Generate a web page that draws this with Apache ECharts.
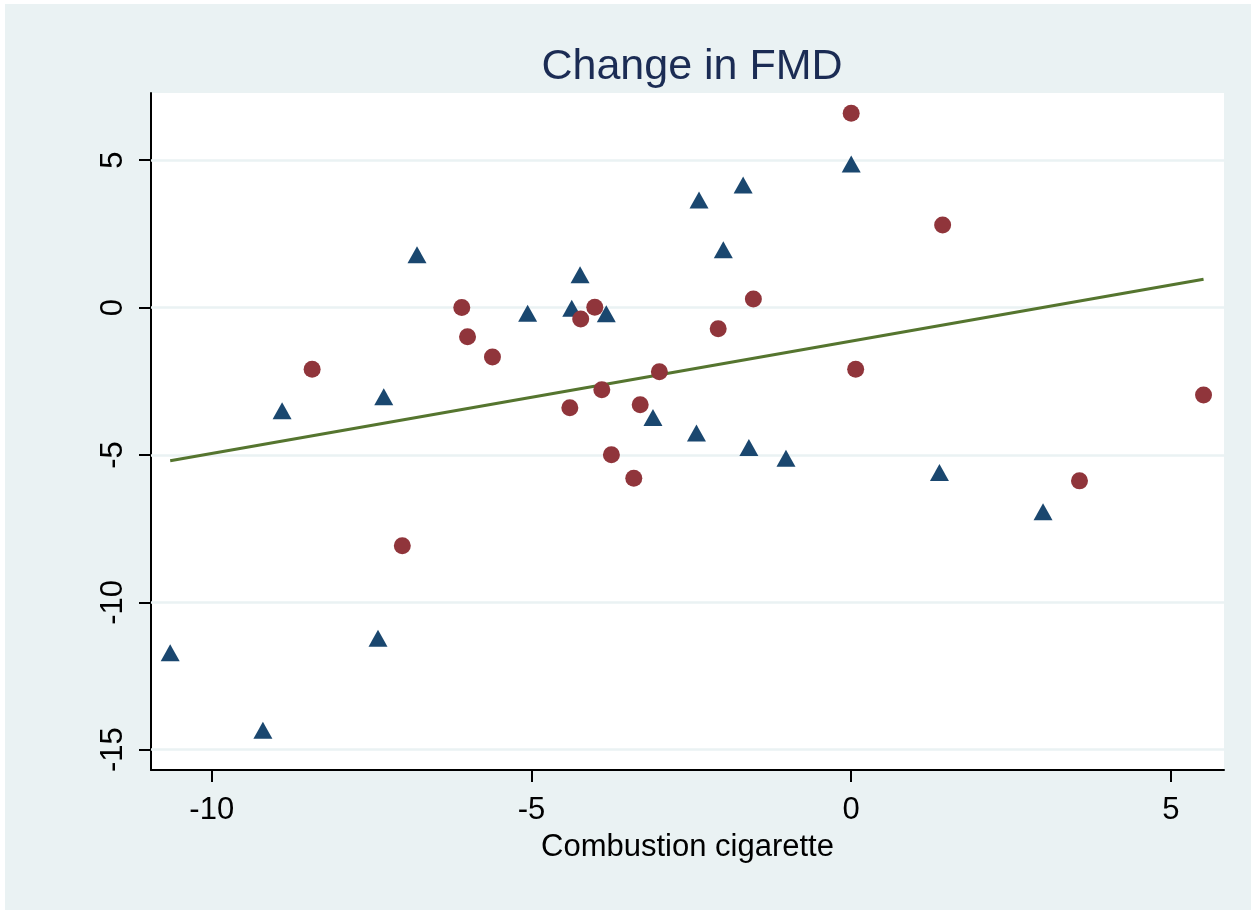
<!DOCTYPE html>
<html>
<head>
<meta charset="utf-8">
<script src="https://cdn.jsdelivr.net/npm/echarts@6/dist/echarts.min.js"></script>
<style>
  html, body { margin: 0; padding: 0; background: #ffffff; }
  #chart { position: absolute; left: 5px; top: 4px; width: 1246px; height: 906px; }
</style>
</head>
<body>
<div id="chart"></div>
<script>
// Points: [x, y]
const circlePoints = [
  [0.0, 6.59], [1.43, 2.8], [0.07, -2.09], [5.51, -2.97], [3.57, -5.88],
  [-8.43, -2.09], [-6.09, 0.0], [-6.0, -0.99], [-5.61, -1.68], [-4.4, -3.4],
  [-4.23, -0.39], [-4.01, 0.01], [-3.9, -2.79], [-3.75, -4.99], [-3.4, -5.79],
  [-3.3, -3.3], [-3.0, -2.18], [-2.08, -0.72], [-1.53, 0.29], [-7.02, -8.08]
];
const trianglePoints = [
  [0.0, 4.87], [3.0, -6.93], [1.38, -5.6], [-10.65, -11.71], [-9.2, -14.34],
  [-7.4, -11.22], [-8.9, -3.5], [-7.31, -3.03], [-6.79, 1.79], [-5.06, -0.19],
  [-4.37, -0.02], [-4.24, 1.11], [-3.83, -0.21], [-3.1, -3.73], [-2.42, -4.26],
  [-2.38, 3.65], [-2.0, 1.96], [-1.69, 4.16], [-1.6, -4.75], [-1.02, -5.11]
];
const fitLine = [[-10.65, -5.2], [5.51, 0.96]];

const xTicks = [-10, -5, 0, 5];
const yTicks = [-15, -10, -5, 0, 5];

const chart = echarts.init(document.getElementById("chart"));

const font = "Liberation Sans, Arial, sans-serif";

chart.setOption({
  backgroundColor: "#eaf2f3",
  animation: false,
  title: {
    text: "Change in FMD",
    left: 682,
    top: 37,
    textAlign: "center",
    textStyle: {
      color: "#1b2c54",
      fontFamily: font,
      fontSize: 43,
      fontWeight: "normal",
    },
  },
  grid: {
    left: 146,
    top: 89,
    right: 27,
    bottom: 140,
    show: true,
    backgroundColor: "#ffffff",
    borderWidth: 0,
  },
  xAxis: {
    type: "value",
    min: -10.95,
    max: 5.83,
    name: "Combustion cigarette",
    nameLocation: "middle",
    nameGap: 62,
    nameTextStyle: { color: "#000", fontFamily: font, fontSize: 31 },
    axisLine: { show: true, onZero: false, lineStyle: { color: "#000", width: 2 } },
    axisTick: {
      show: true,
      length: 12,
      customValues: xTicks,
      lineStyle: { color: "#000", width: 2 },
    },
    axisLabel: {
      customValues: xTicks,
      margin: 25,
      color: "#000",
      fontFamily: font,
      fontSize: 31,
    },
    splitLine: { show: false },
  },
  yAxis: {
    type: "value",
    min: -15.69,
    max: 7.28,
    axisLine: { show: true, onZero: false, lineStyle: { color: "#000", width: 2 } },
    axisTick: {
      show: true,
      length: 12,
      customValues: yTicks,
      lineStyle: { color: "#000", width: 2 },
    },
    axisLabel: {
      customValues: yTicks,
      rotate: 90,
      margin: 22,
      color: "#000",
      fontFamily: font,
      fontSize: 31,
    },
    splitLine: { show: false },
  },
  series: [
    {
      // porte-lignes de la grille horizontale
      type: "line",
      data: [],
      silent: true,
      z: 1,
      markLine: {
        silent: true,
        symbol: "none",
        label: { show: false },
        lineStyle: { color: "#eaf2f3", width: 2.5, type: "solid" },
        data: yTicks.map((v) => ({ yAxis: v })),
      },
    },
    {
      type: "line",
      data: fitLine,
      showSymbol: false,
      lineStyle: { color: "#55752f", width: 3 },
      z: 10,
    },
    {
      type: "scatter",
      data: trianglePoints,
      symbol: "triangle",
      symbolSize: [19, 17],
      itemStyle: { color: "#1a476f", opacity: 1 },
      z: 11,
    },
    {
      type: "scatter",
      data: circlePoints,
      symbol: "circle",
      symbolSize: 17,
      itemStyle: { color: "#90353b", opacity: 1 },
      z: 12,
    },
  ],
});
</script>
</body>
</html>
